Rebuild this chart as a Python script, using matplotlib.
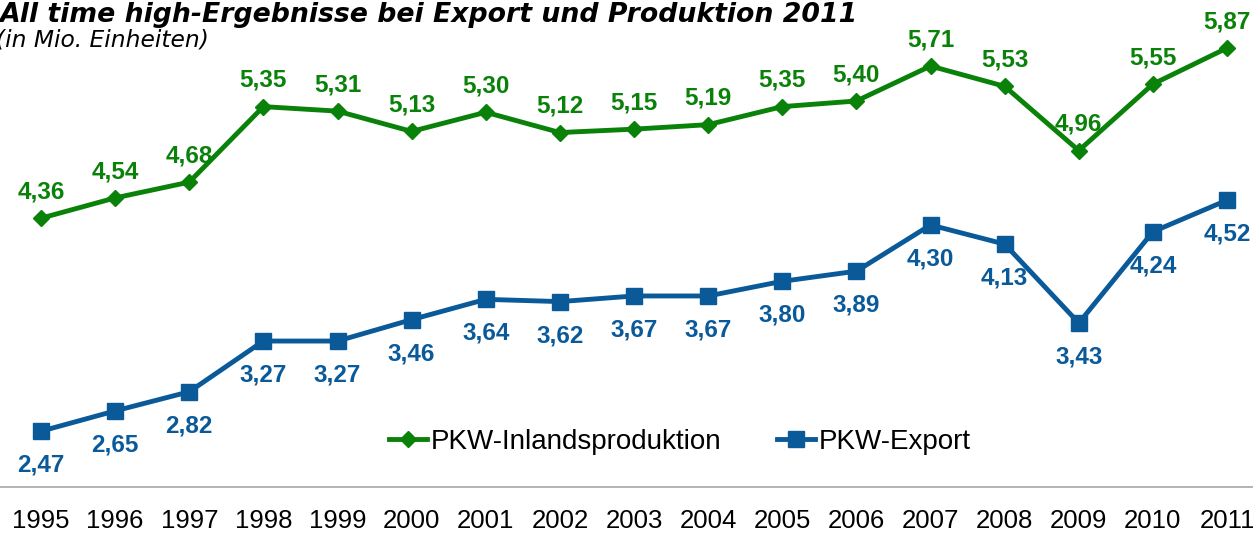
import numpy as np
import matplotlib
matplotlib.use("Agg")
import matplotlib.pyplot as plt

plt.rcParams['font.family'] = ['Liberation Sans', 'DejaVu Sans']

# data
years = ['1995', '1996', '1997', '1998', '1999', '2000', '2001', '2002', '2003',
         '2004', '2005', '2006', '2007', '2008', '2009', '2010', '2011']
produktion = [4.36, 4.54, 4.68, 5.35, 5.31, 5.13, 5.30, 5.12, 5.15,
              5.19, 5.35, 5.40, 5.71, 5.53, 4.96, 5.55, 5.87]
export = [2.47, 2.65, 2.82, 3.27, 3.27, 3.46, 3.64, 3.62, 3.67,
          3.67, 3.80, 3.89, 4.30, 4.13, 3.43, 4.24, 4.52]

green = '#0A820A'
blue = '#0A5A9A'

fig = plt.figure(figsize=(12.53, 5.35), dpi=100)
ax = fig.add_axes([0, 48 / 535, 1, 487 / 535])

x = np.arange(len(years))
ax.plot(x, produktion, color=green, lw=3.5, marker='D', ms=8, label='PKW-Inlandsproduktion')
ax.plot(x, export, color=blue, lw=3.5, marker='s', ms=11.5, label='PKW-Export')

def fmt(v):
    return f"{v:.2f}".replace('.', ',')

for xi, v in zip(x, produktion):
    ax.annotate(fmt(v), (xi, v), xytext=(0, 19), textcoords='offset points',
                ha='center', va='center', color=green, fontsize=17.5, fontweight='bold')
for xi, v in zip(x, export):
    ax.annotate(fmt(v), (xi, v), xytext=(0, -24.5), textcoords='offset points',
                ha='center', va='center', color=blue, fontsize=17.5, fontweight='bold')

ax.set_xlim(-0.553, 16.35)
ax.set_ylim(1.975, 6.296)
ax.set_xticks(x)
ax.set_xticklabels(years, fontsize=18.5)
ax.tick_params(axis='x', length=0, pad=16)
ax.set_yticks([])
for s in ['left', 'right', 'top']:
    ax.spines[s].set_visible(False)
ax.spines['bottom'].set_color('#A6A6A6')
ax.spines['bottom'].set_linewidth(1.2)
ax.patch.set_alpha(0)

fig.legend(loc='center', bbox_to_anchor=(680 / 1253, 1 - 442 / 535), ncol=2,
           frameon=False, fontsize=20, handlelength=1.35, handletextpad=0.15,
           columnspacing=2.0)

fig.text(0.0, 1 - 22 / 535, 'All time high-Ergebnisse bei Export und Produktion 2011',
         fontsize=19.3, fontweight='bold', fontstyle='italic', va='baseline', ha='left',
         family='DejaVu Sans')
fig.text(-0.003, 1 - 47 / 535, '(in Mio. Einheiten)', fontsize=16.8,
         fontstyle='italic', va='baseline', ha='left', family='DejaVu Sans')

fig.savefig('out.png', dpi=100)
